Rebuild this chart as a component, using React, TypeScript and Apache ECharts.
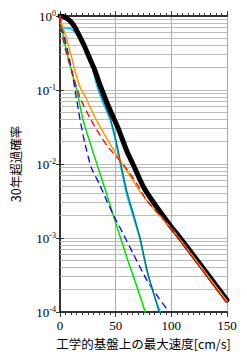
import React, { useEffect, useRef } from "react";
import * as echarts from "echarts";

const xTicks = [0, 50, 100, 150];
const minorGridValues: number[] = [];
for (let d = -4; d <= -1; d++) {
  for (let m = 2; m <= 9; m++) minorGridValues.push(m * Math.pow(10, d));
}

const totalCurve = [[0,1.0],[4,0.97],[9,0.86],[13,0.72],[18,0.52],[22,0.39],[27,0.26],[31,0.19],[36,0.116],[43,0.063],[52,0.031],[60,0.015],[66,0.0096],[75,0.0049],[87,0.0026],[99,0.00148],[108,0.001],[150,1.45e-4]];
const tealCurve = [[0,1.0],[5,0.93],[9,0.83],[13,0.68],[18,0.48],[22,0.36],[27,0.24],[31,0.165],[35,0.105],[40,0.066],[45,0.042],[50,0.022],[55,0.0095],[60,0.0043],[66,0.0021],[72,0.001],[76,5.2e-4],[80,2.9e-4],[85,1.6e-4],[89,1.0e-4]];
const cyanCurve = [[0,0.69],[5,0.69],[9,0.68],[13,0.61],[19,0.47],[25,0.31],[29,0.2],[33,0.116],[39,0.065],[45,0.04],[50,0.02],[55,0.0085],[60,0.0038],[66,0.0019],[72,0.00093],[78,3.6e-4],[84,1.8e-4],[90,1.0e-4]];
const orangeCurve = [[0,1.0],[2,0.75],[5.8,0.5],[10.3,0.28],[14,0.17],[18,0.11],[23.8,0.075],[31.3,0.043],[40,0.025],[52,0.0125],[62,0.0073],[72,0.0042],[85,0.0024],[99,0.0014],[108,0.00095],[150,1.4e-4]];
const redCurve = [[0,1.0],[1.3,0.62],[5.8,0.31],[10.3,0.186],[17.8,0.08],[26.8,0.042],[33,0.029],[43,0.017],[51,0.0125],[60,0.0085],[69,0.0054],[78,0.0032],[96,0.0016],[108,0.00092],[150,1.3e-4]];
const blueCurve = [[0,1.0],[3,0.6],[7,0.33],[11,0.17],[14,0.09],[18,0.04],[22,0.02],[28,0.009],[35,0.0055],[42,0.0032],[49,0.0019],[56,0.0012],[66,6e-4],[78,2.7e-4],[88,1.6e-4],[98,1.0e-4]];
const greenCurve = [[0,1.0],[2,0.65],[4.2,0.43],[8,0.25],[11.7,0.15],[15,0.1],[20.8,0.039],[30,0.014],[40,0.0048],[50,0.0016],[60,5.5e-4],[70,2.0e-4],[76.5,1.0e-4]];

const SERIF = "Liberation Serif";
const CJK = "Noto Sans CJK JP";

export default function App() {
  const ref = useRef<HTMLDivElement>(null);
  useEffect(() => {
    if (!ref.current) return;
    const chart = echarts.init(ref.current, undefined, { renderer: "svg" });
    const axisLine = { show: true, lineStyle: { color: "#333", width: 2 } };
    const line = (data: number[][], color: string, width: number, type: any = "solid", z = 3) => ({
      type: "line",
      data,
      showSymbol: false,
      smooth: 0.2,
      z,
      lineStyle: { color, width, type, cap: "round", join: "round" },
      silent: true,
    });
    chart.setOption({
      animation: false,
      grid: { left: 60, right: 20, top: 16, bottom: 45, containLabel: false },
      xAxis: [
        {
          type: "value",
          min: 0,
          max: 150,
          interval: 50,
          axisLine,
          axisTick: { show: true, length: 5, lineStyle: { color: "#333" } },
          minorTick: { show: true, splitNumber: 10, length: 3, lineStyle: { color: "#333" } },
          axisLabel: { fontFamily: SERIF, fontSize: 13, color: "#000", margin: 7 },
          splitLine: { show: true, lineStyle: { color: "#aaa", width: 1 } },
          name: "工学的基盤上の最大速度[cm/s]",
          nameLocation: "middle",
          nameGap: 25,
          nameTextStyle: { fontFamily: CJK, fontSize: 12.5, color: "#000" },
        },
        {
          type: "value",
          position: "top",
          min: 0,
          max: 150,
          interval: 50,
          axisLine,
          axisTick: { show: true, length: 5, lineStyle: { color: "#333" } },
          minorTick: { show: true, splitNumber: 10, length: 3, lineStyle: { color: "#333" } },
          axisLabel: { show: false },
          splitLine: { show: false },
        },
      ],
      yAxis: [
        {
          type: "log",
          logBase: 10,
          min: 1e-4,
          max: 1,
          axisLine,
          axisTick: { show: true, length: 4, lineStyle: { color: "#333" } },
          axisLabel: {
            margin: 4,
            formatter: (v: number) => `{b|10}{s|${Math.round(Math.log10(v))}}`,
            rich: {
              b: { fontFamily: SERIF, fontSize: 13, color: "#000", lineHeight: 14 },
              s: { fontFamily: SERIF, fontSize: 8, color: "#000", verticalAlign: "top", lineHeight: 8 },
            },
          },
          splitLine: { show: true, lineStyle: { color: "#bbb", width: 1 } },
          name: "30年超過確率",
          nameLocation: "middle",
          nameGap: 38,
          nameRotate: 90,
          nameTextStyle: { fontFamily: CJK, fontSize: 12.5, color: "#000" },
        },
        {
          type: "log",
          logBase: 10,
          position: "right",
          min: 1e-4,
          max: 1,
          axisLine,
          axisTick: { show: true, length: 4, lineStyle: { color: "#333" } },
          axisLabel: { show: false },
          splitLine: { show: false },
        },
      ],
      series: [
        {
          type: "line",
          data: [[0, 1]],
          showSymbol: false,
          lineStyle: { opacity: 0 },
          z: 1,
          silent: true,
          markLine: {
            silent: true,
            z: 1,
            precision: 8,
            symbol: "none",
            label: { show: false },
            lineStyle: { color: "#bbb", width: 1, type: "solid" },
            data: minorGridValues.map((v) => ({ yAxis: v })),
          },
        },
        line(greenCurve, "#00e000", 1.5),
        line(blueCurve, "#0000ff", 1.3, [6, 5]),
        line(cyanCurve, "#00bfff", 1.5),
        line(tealCurve, "#007070", 1.3),
        line(totalCurve, "#000000", 5),
        line(orangeCurve, "#ff9900", 1.5, "solid", 4),
        line(redCurve, "#ff0000", 1.3, [6, 5], 4),
      ],
    });
    return () => chart.dispose();
  }, []);
  return (
    <div
      ref={ref}
      style={{ position: "absolute", left: 0, top: 0, width: 247, height: 357 }}
    />
  );
}
